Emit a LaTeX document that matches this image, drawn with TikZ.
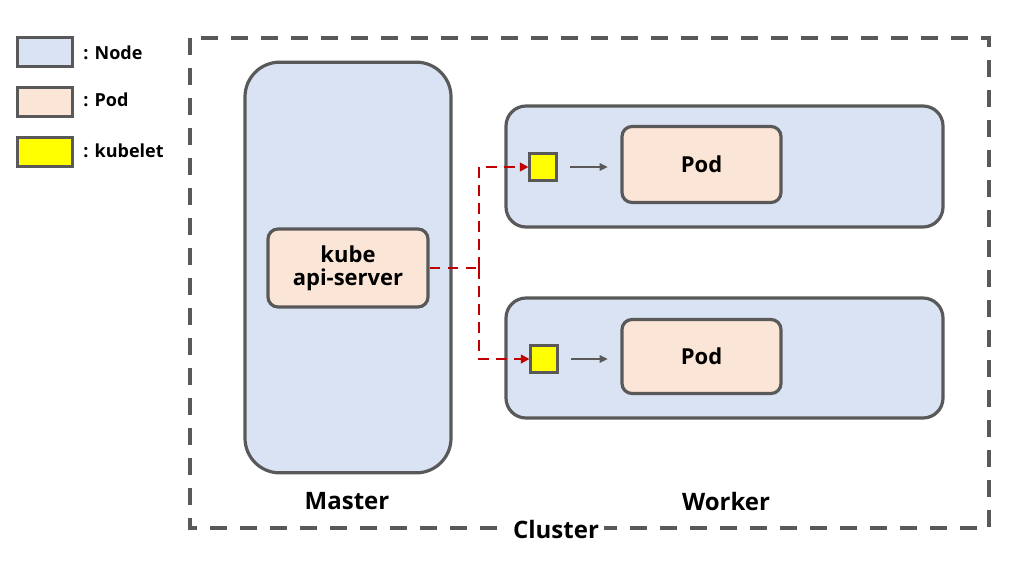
\documentclass[tikz,border=0pt]{standalone}
\usepackage{fontspec}
\setmainfont{Open Sans}
\usetikzlibrary{arrows.meta}
\definecolor{nodefill}{HTML}{DAE3F3}
\definecolor{podfill}{HTML}{FBE5D6}
\definecolor{edge}{HTML}{595959}
\definecolor{kube}{HTML}{FFFF00}
\definecolor{redline}{HTML}{C00000}
\tikzset{
  nodebox/.style={draw=edge, line width=2.4pt, fill=nodefill, inner sep=0pt},
  podbox/.style={draw=edge, line width=2.4pt, fill=podfill, rounded corners=7.5pt, inner sep=0pt, font=\bfseries\fontsize{16.5}{19}\selectfont, align=center},
  kubebox/.style={draw=edge, line width=1.8pt, fill=kube, minimum width=20pt, minimum height=20pt, inner sep=0pt},
  legbox/.style={draw=edge, line width=2.4pt, minimum width=41pt, minimum height=22pt, inner sep=0pt},
  legtext/.style={anchor=west, font=\bfseries\fontsize{13.5}{16}\selectfont, inner sep=0pt},
  biglabel/.style={font=\bfseries\fontsize{18}{21}\selectfont, inner sep=1pt},
  reddash/.style={draw=redline, line width=2.2pt, dash pattern=on 8pt off 5.5pt, -{Triangle[length=6.5pt,width=6.5pt]}},
  grayarrow/.style={draw=edge, line width=1.6pt, -{Triangle[length=6pt,width=5.5pt]}, shorten <=9.5pt, shorten >=9.5pt},
}
\begin{document}
\begin{tikzpicture}[x=0.75pt,y=-0.75pt]
\useasboundingbox (0,0) rectangle (1019,569);
% cluster
\draw[draw=edge, line width=2.6pt, dash pattern=on 12.5pt off 10pt] (190,38) rectangle (989,528);
\node[biglabel, fill=white, inner xsep=4pt] (cluster) at (556,529) {Cluster};
% legend
\node[legbox, fill=nodefill] (lg1) at (45,52) {};
\node[legbox, fill=podfill] (lg2) at (45,102) {};
\node[legbox, fill=kube] (lg3) at (45,152) {};
\node[legtext] (lt1) at (83,53) {: Node};
\node[legtext] (lt2) at (83,100) {: Pod};
\node[legtext] (lt3) at (83,151) {: kubelet};
% master
\node[nodebox, rounded corners=26pt, minimum width=154.5pt, minimum height=308pt] (master) at (348,267.5) {};
\node[podbox, minimum width=120pt, minimum height=58.5pt] (api) at (348,268) {kube\\[-2pt]api-server};
\node[biglabel] (masterlbl) at (347,501) {Master};
% workers
\node[nodebox, rounded corners=15pt, minimum width=327.75pt, minimum height=90.75pt] (w1) at (724.5,166.5) {};
\node[nodebox, rounded corners=15pt, minimum width=327.75pt, minimum height=90pt] (w2) at (724.5,358) {};
\node[biglabel] (workerlbl) at (726,501) {Worker};
\node[podbox, minimum width=119.25pt, minimum height=57pt] (pod1) at (701.5,164.5) {Pod};
\node[podbox, minimum width=119.25pt, minimum height=55.5pt] (pod2) at (701.5,356.5) {Pod};
\node[kubebox] (k1) at (543,167) {};
\node[kubebox] (k2) at (544,359) {};
% arrows
\draw[grayarrow] (k1.east) -- (k1.east -| pod1.west);
\draw[grayarrow] (k2.east) -- (k2.east -| pod2.west);
\coordinate (jn) at (479,268);
\draw[reddash, -] (api.east) -- (jn);
\draw[reddash] (jn) |- (k1.west);
\draw[reddash] (jn) |- (k2.west);
\end{tikzpicture}
\end{document}
